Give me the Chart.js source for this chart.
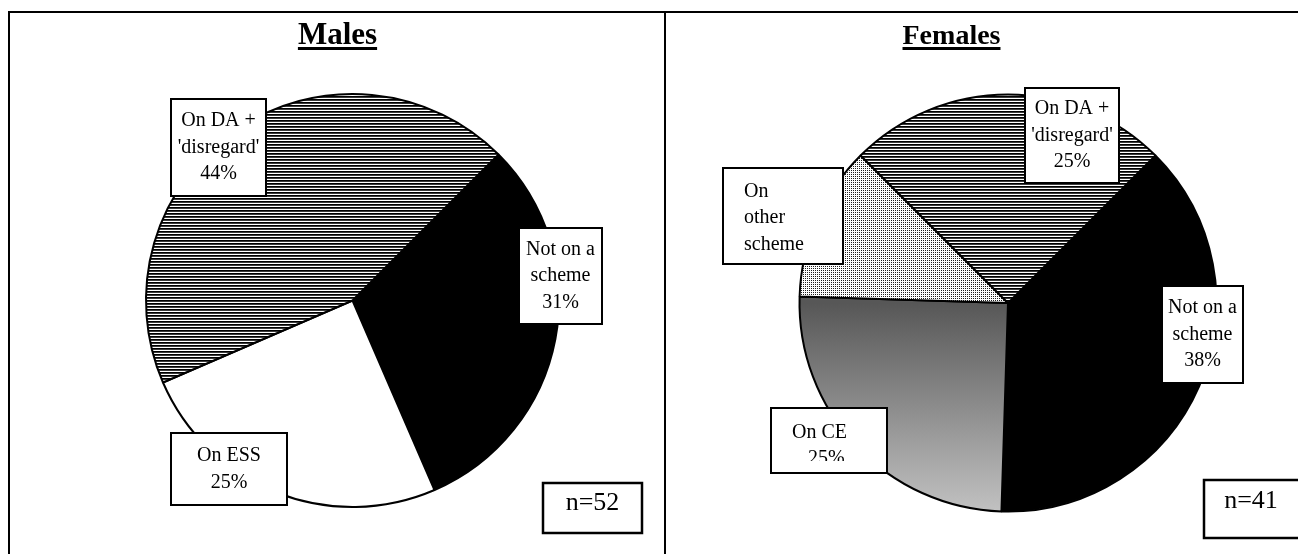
<!DOCTYPE html>
<html>
<head>
<meta charset="utf-8">
<script src="https://cdn.jsdelivr.net/npm/chart.js@4.4.0/dist/chart.umd.min.js"></script>
<style>
  html, body { margin: 0; padding: 0; background: #fff; width: 1298px; height: 554px; overflow: hidden; }
  .rule { position: absolute; background: #000; }
  canvas { position: absolute; top: 0; }
  #male { left: 0; }
  #female { left: 665px; }
</style>
</head>
<body>
<div class="rule" style="left:8px;top:11px;width:1290px;height:2px"></div>
<div class="rule" style="left:8px;top:11px;width:2px;height:543px"></div>
<div class="rule" style="left:664px;top:11px;width:2px;height:543px"></div>
<canvas id="male" width="665" height="554"></canvas>
<canvas id="female" width="633" height="554"></canvas>
<script>
// Status of respondents by scheme, percentages per group
const maleCategories = ['Not on a scheme', 'On ESS', "On DA + 'disregard'"];
const maleValues = [31, 25, 44];
const maleN = 52;

const femaleCategories = ['Not on a scheme', 'On CE', 'On other scheme', "On DA + 'disregard'"];
const femaleValues = [38, 25, 12, 25];
const femaleN = 41;

// Text shown in each slice's label box (percent is appended from the value)
const maleLabelLines = [['Not on a', 'scheme'], ['On ESS'], ['On DA +', "'disregard'"]];
const maleShowPct = [true, true, true];
const femaleLabelLines = [['Not on a', 'scheme'], ['On CE'], ['On', 'other', 'scheme'], ['On DA +', "'disregard'"]];
const femaleShowPct = [true, true, false, true];

const SERIF = '"Liberation Serif", "Times New Roman", serif';

// Fill patterns
function makePattern(w, h, paint) {
  const c = document.createElement('canvas');
  c.width = w; c.height = h;
  const x = c.getContext('2d');
  x.fillStyle = '#fff';
  x.fillRect(0, 0, w, h);
  paint(x);
  return x.createPattern(c, 'repeat');
}
const stripes = makePattern(8, 3, x => {
  x.fillStyle = '#000'; x.fillRect(0, 0, 8, 1);
  x.fillStyle = '#3a3a3a'; x.fillRect(0, 1, 8, 1);
});
const dots = makePattern(2, 2, x => {
  x.fillStyle = '#202020'; x.fillRect(0, 0, 1, 1);
});

function shadeGradient(chart) {
  const ca = chart.chartArea;
  if (!ca) return '#888';
  const cy = (ca.top + ca.bottom) / 2;
  const g = chart.ctx.createLinearGradient(0, cy, 0, ca.bottom);
  g.addColorStop(0, '#575757');
  g.addColorStop(1, '#c2c2c2');
  return g;
}

// Draws boxed slice labels, sample-size box and underlined heading
function boxLabels(cfg) {
  return {
    id: 'boxLabels',
    afterDatasetsDraw(chart) {
      const ctx = chart.ctx;
      const arc = chart.getDatasetMeta(0).data[0];
      const cx = arc.x, cy = arc.y;
      const values = chart.data.datasets[0].data;
      ctx.save();

      cfg.boxes.forEach((b, i) => {
        const lines = cfg.lines[i].slice();
        if (cfg.showPct[i]) lines.push(values[i] + '%');
        const bx = cx + b.dx - b.w / 2, by = cy + b.dy - b.h / 2;
        ctx.fillStyle = '#fff';
        ctx.fillRect(bx, by, b.w, b.h);
        ctx.lineWidth = 2;
        ctx.strokeStyle = '#000';
        ctx.strokeRect(bx, by, b.w, b.h);
        ctx.save();
        ctx.beginPath();
        ctx.rect(bx + 1, by + 1, b.w - 2, (b.clip || b.h) - 2);
        ctx.clip();
        ctx.font = '20px ' + SERIF;
        ctx.fillStyle = '#000';
        ctx.textBaseline = 'middle';
        const step = 26.5, n = lines.length;
        lines.forEach((t, k) => {
          const y = cy + b.dy + (k - (n - 1) / 2) * step + (b.shift || 0);
          if (b.indent) {
            ctx.textAlign = 'left';
            ctx.fillText(t, bx + b.indent[k], y);
          } else {
            ctx.textAlign = 'center';
            ctx.fillText(t, cx + b.dx, y);
          }
        });
        ctx.restore();
      });

      // sample size
      const nb = cfg.nBox;
      const nx = cx + nb.dx - nb.w / 2, ny = cy + nb.dy - nb.h / 2;
      ctx.fillStyle = '#fff';
      ctx.fillRect(nx, ny, nb.w, nb.h);
      ctx.lineWidth = 2.5;
      ctx.strokeStyle = '#000';
      ctx.strokeRect(nx, ny, nb.w, nb.h);
      ctx.font = '26px ' + SERIF;
      ctx.fillStyle = '#000';
      ctx.textAlign = 'center';
      ctx.textBaseline = 'middle';
      ctx.fillText('n=' + nb.n, cx + nb.dx + (nb.tx || 0), cy + nb.dy + nb.ty);

      // heading
      const h = cfg.heading;
      ctx.font = 'bold ' + h.size + 'px ' + SERIF;
      ctx.textAlign = 'center';
      ctx.textBaseline = 'alphabetic';
      ctx.fillText(h.text, h.x, h.y);
      const tw = ctx.measureText(h.text).width;
      ctx.fillRect(h.x - tw / 2, h.y + 3, tw, 3);
      ctx.restore();
    }
  };
}

function pieOptions(padding) {
  return {
    responsive: false,
    animation: false,
    events: [],
    layout: { padding },
    rotation: 45,
    plugins: {
      legend: { display: false },
      tooltip: { enabled: false },
      title: { display: false }
    }
  };
}

new Chart(document.getElementById('male'), {
  type: 'pie',
  data: {
    labels: maleCategories,
    datasets: [{
      data: maleValues,
      backgroundColor: ['#000', '#fff', stripes],
      borderColor: '#000',
      borderWidth: 2
    }]
  },
  options: pieOptions({ left: 145, top: 93, right: 105, bottom: 46 }),
  plugins: [boxLabels({
    lines: maleLabelLines,
    showPct: maleShowPct,
    boxes: [
      { dx: 208, dy: -24.5, w: 83, h: 96 },
      { dx: -123.5, dy: 168.5, w: 116, h: 72 },
      { dx: -134, dy: -153, w: 95, h: 97 }
    ],
    nBox: { n: maleN, dx: 240, dy: 207.5, w: 99, h: 50, ty: -5 },
    heading: { text: 'Males', x: 337.5, y: 44, size: 31 }
  })]
});

new Chart(document.getElementById('female'), {
  type: 'pie',
  data: {
    labels: femaleCategories,
    datasets: [{
      data: femaleValues,
      backgroundColor: (c) => {
        const fills = ['#000', null, dots, stripes];
        return c.dataIndex === 1 ? shadeGradient(c.chart) : fills[c.dataIndex];
      },
      borderColor: '#000',
      borderWidth: 2
    }]
  },
  options: pieOptions({ left: 133.5, top: 93.5, right: 80.5, bottom: 41.5 }),
  plugins: [boxLabels({
    lines: femaleLabelLines,
    showPct: femaleShowPct,
    boxes: [
      { dx: 194.5, dy: 31.5, w: 81, h: 97 },
      { dx: -179, dy: 137.5, w: 116, h: 65, shift: 5, clip: 54, indent: [21, 37] },
      { dx: -225, dy: -87, w: 120, h: 96, shift: 2, indent: [21, 21, 21] },
      { dx: 64, dy: -167.5, w: 94, h: 95 }
    ],
    nBox: { n: femaleN, dx: 245, dy: 206, w: 98, h: 58, tx: -2, ty: -8 },
    heading: { text: 'Females', x: 286.5, y: 44, size: 28 }
  })]
});
</script>
</body>
</html>
